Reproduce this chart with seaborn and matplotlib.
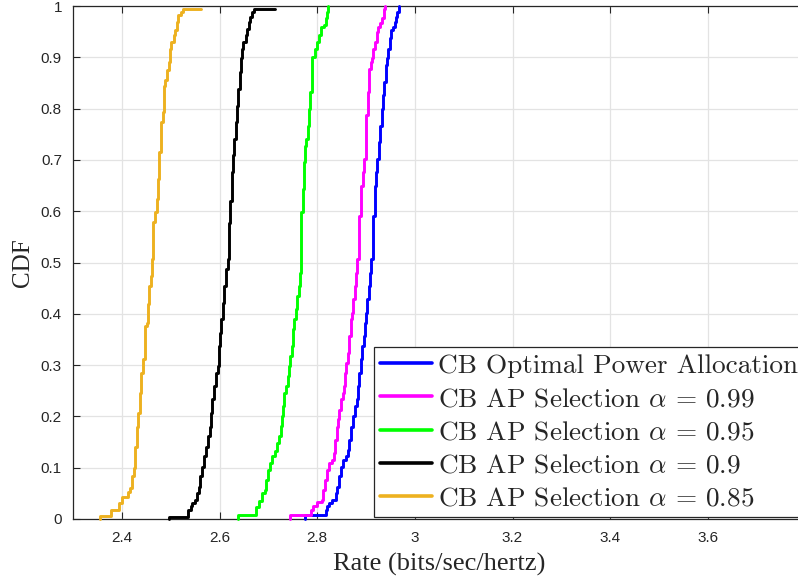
import matplotlib
matplotlib.use("Agg")
import matplotlib.pyplot as plt
import seaborn as sns
import pandas as pd

# ---------------- data ----------------
labels = [
    "CB Optimal Power Allocation",
    r"CB AP Selection $\alpha$ = 0.99",
    r"CB AP Selection $\alpha$ = 0.95",
    r"CB AP Selection $\alpha$ = 0.9",
    r"CB AP Selection $\alpha$ = 0.85",
]
colors = ["#0000FF", "#FF00FF", "#00FF00", "#000000", "#EDB120"]

blue_x = [2.775, 2.775, 2.818, 2.821, 2.825, 2.830, 2.838, 2.841, 2.844, 2.848, 2.852, 2.859, 2.863,
          2.866, 2.870, 2.874, 2.877, 2.881, 2.884, 2.886, 2.889, 2.892, 2.895, 2.897, 2.900, 2.903,
          2.906, 2.908, 2.911, 2.914, 2.918, 2.921, 2.923, 2.926, 2.929, 2.932, 2.934, 2.937, 2.940,
          2.943, 2.945, 2.949, 2.952, 2.956, 2.959, 2.962, 2.964, 2.967]
blue_y = [0.0, 0.008, 0.018, 0.025, 0.031, 0.037, 0.05, 0.063, 0.083, 0.102, 0.115, 0.122, 0.135,
          0.154, 0.18, 0.2, 0.22, 0.233, 0.259, 0.285, 0.311, 0.337, 0.357, 0.383, 0.402, 0.428,
          0.454, 0.48, 0.507, 0.591, 0.65, 0.676, 0.702, 0.735, 0.767, 0.8, 0.826, 0.852, 0.885,
          0.898, 0.917, 0.937, 0.953, 0.96, 0.969, 0.979, 0.989, 1.0]

magenta_x = [2.745, 2.745, 2.788, 2.792, 2.799, 2.809, 2.812, 2.816, 2.821, 2.825, 2.830, 2.834, 2.837,
             2.840, 2.843, 2.845, 2.848, 2.852, 2.855, 2.858, 2.860, 2.863, 2.866, 2.869, 2.871, 2.874,
             2.877, 2.880, 2.882, 2.885, 2.889, 2.893, 2.896, 2.899, 2.901, 2.904, 2.907, 2.910, 2.912,
             2.915, 2.918, 2.922, 2.925, 2.929, 2.933, 2.936, 2.938]
magenta_y = [0.0, 0.008, 0.018, 0.025, 0.034, 0.037, 0.057, 0.076, 0.096, 0.109, 0.115, 0.128, 0.154,
             0.18, 0.194, 0.213, 0.233, 0.246, 0.259, 0.285, 0.304, 0.324, 0.357, 0.389, 0.402, 0.428,
             0.454, 0.48, 0.507, 0.591, 0.65, 0.676, 0.702, 0.735, 0.787, 0.832, 0.878, 0.891, 0.898,
             0.917, 0.93, 0.95, 0.96, 0.966, 0.976, 0.995, 1.0]

green_x = [2.637, 2.637, 2.675, 2.681, 2.688, 2.693, 2.696, 2.700, 2.704, 2.708, 2.714, 2.718, 2.721,
           2.725, 2.727, 2.730, 2.733, 2.737, 2.740, 2.743, 2.745, 2.748, 2.751, 2.753, 2.756, 2.759,
           2.762, 2.764, 2.766, 2.767, 2.770, 2.773, 2.775, 2.778, 2.781, 2.784, 2.786, 2.789, 2.790,
           2.795, 2.799, 2.803, 2.807, 2.814, 2.818, 2.821, 2.823]
green_y = [0.0, 0.008, 0.024, 0.035, 0.05, 0.057, 0.076, 0.096, 0.109, 0.122, 0.132, 0.148, 0.161,
           0.181, 0.2, 0.22, 0.246, 0.259, 0.278, 0.298, 0.317, 0.337, 0.37, 0.389, 0.409, 0.435,
           0.454, 0.48, 0.507, 0.598, 0.643, 0.696, 0.728, 0.741, 0.767, 0.8, 0.832, 0.865, 0.901,
           0.917, 0.93, 0.943, 0.96, 0.963, 0.976, 0.989, 1.0]

black_x = [2.496, 2.496, 2.536, 2.541, 2.544, 2.549, 2.553, 2.558, 2.560, 2.564, 2.569, 2.573, 2.577,
           2.580, 2.582, 2.584, 2.588, 2.592, 2.596, 2.599, 2.601, 2.604, 2.607, 2.610, 2.614, 2.617,
           2.619, 2.622, 2.625, 2.627, 2.630, 2.633, 2.636, 2.638, 2.641, 2.644, 2.647, 2.649, 2.654,
           2.656, 2.660, 2.663, 2.666, 2.671, 2.714]
black_y = [0.0, 0.004, 0.018, 0.025, 0.031, 0.037, 0.05, 0.063, 0.083, 0.102, 0.122, 0.141, 0.161,
           0.18, 0.207, 0.233, 0.259, 0.285, 0.298, 0.337, 0.363, 0.389, 0.422, 0.454, 0.487, 0.507,
           0.577, 0.62, 0.676, 0.709, 0.741, 0.774, 0.806, 0.839, 0.872, 0.898, 0.917, 0.93, 0.943,
           0.956, 0.969, 0.979, 0.989, 0.995, 0.995]

orange_x = [2.356, 2.356, 2.377, 2.395, 2.401, 2.412, 2.417, 2.421, 2.425, 2.427, 2.432, 2.434, 2.437,
            2.440, 2.443, 2.447, 2.448, 2.452, 2.453, 2.456, 2.459, 2.462, 2.464, 2.467, 2.471, 2.474,
            2.477, 2.481, 2.484, 2.486, 2.489, 2.493, 2.496, 2.499, 2.501, 2.506, 2.508, 2.512, 2.515,
            2.521, 2.525, 2.562]
orange_y = [0.0, 0.005, 0.018, 0.032, 0.042, 0.053, 0.061, 0.083, 0.10, 0.14, 0.18, 0.207, 0.246,
            0.285, 0.311, 0.337, 0.376, 0.383, 0.42, 0.454, 0.474, 0.507, 0.578, 0.598, 0.624, 0.663,
            0.715, 0.774, 0.793, 0.845, 0.855, 0.875, 0.891, 0.917, 0.93, 0.943, 0.953, 0.969, 0.982,
            0.989, 0.995, 0.995]

series_x = [blue_x, magenta_x, green_x, black_x, orange_x]
series_y = [blue_y, magenta_y, green_y, black_y, orange_y]

xticks = [2.4, 2.6, 2.8, 3.0, 3.2, 3.4, 3.6]
xtick_labels = ["2.4", "2.6", "2.8", "3", "3.2", "3.4", "3.6"]
yticks = [0, 0.1, 0.2, 0.3, 0.4, 0.5, 0.6, 0.7, 0.8, 0.9, 1]
ytick_labels = ["0", "0.1", "0.2", "0.3", "0.4", "0.5", "0.6", "0.7", "0.8", "0.9", "1"]

rows = []
for lab, xs, ys in zip(labels, series_x, series_y):
    for i, (xv, yv) in enumerate(zip(xs, ys)):
        rows.append({"series": lab, "order": i, "Rate": xv, "CDF": yv})
df = pd.DataFrame(rows)

# ---------------- style ----------------
sns.set_style("ticks")
plt.rcParams["mathtext.fontset"] = "cm"
plt.rcParams["axes.formatter.use_mathtext"] = True

fig = plt.figure(figsize=(7.98, 5.86), dpi=100)
ax = fig.add_axes([73 / 798, 67 / 586, 732.5 / 798, 513 / 586])

for lab, col in zip(labels, colors):
    sub = df[df["series"] == lab].sort_values("order")
    sns.lineplot(data=sub, x="Rate", y="CDF", ax=ax, color=col, linewidth=2.1,
                 sort=False, estimator=None, drawstyle="steps-post", label=lab,
                 clip_on=False, zorder=3, legend=False)

ax.set_xlim(2.3, 3.8)
ax.set_ylim(0, 1)
ax.set_xticks(xticks)
ax.set_xticklabels(xtick_labels)
ax.set_yticks(yticks)
ax.set_yticklabels(ytick_labels)

ax.grid(True, color="#e3e3e3", linewidth=0.9)
ax.set_axisbelow(True)
for s in ax.spines.values():
    s.set_color("#262626")
    s.set_linewidth(0.9)
ax.tick_params(direction="in", length=5, width=0.8, color="#262626",
               labelcolor="#262626", labelsize=11, top=True, right=True)
ax.tick_params(axis="x", pad=9)
ax.tick_params(axis="y", pad=8)
for t in ax.get_xticklabels() + ax.get_yticklabels():
    t.set_fontfamily("Liberation Sans")

ax.set_xlabel("Rate (bits/sec/hertz)", fontfamily="Liberation Serif", fontsize=19,
              color="#262626", labelpad=5)
ax.set_ylabel("CDF", fontfamily="Liberation Serif", fontsize=18, color="#262626", labelpad=5)

handles = ax.get_lines()[:5]
leg = ax.legend(handles, labels, loc="lower left",
                bbox_to_anchor=(0.4105, 0.004), frameon=True, fancybox=False,
                prop={"family": "cmr10", "size": 19.6}, handlelength=1.9,
                handletextpad=0.2, labelspacing=0.33, borderpad=0.25,
                borderaxespad=0.0)
leg.get_frame().set_edgecolor("#262626")
leg.get_frame().set_linewidth(0.9)
leg.get_frame().set_alpha(1.0)
for lh in leg.get_lines():
    lh.set_linewidth(2.6)

fig.savefig("out.png", dpi=100)
